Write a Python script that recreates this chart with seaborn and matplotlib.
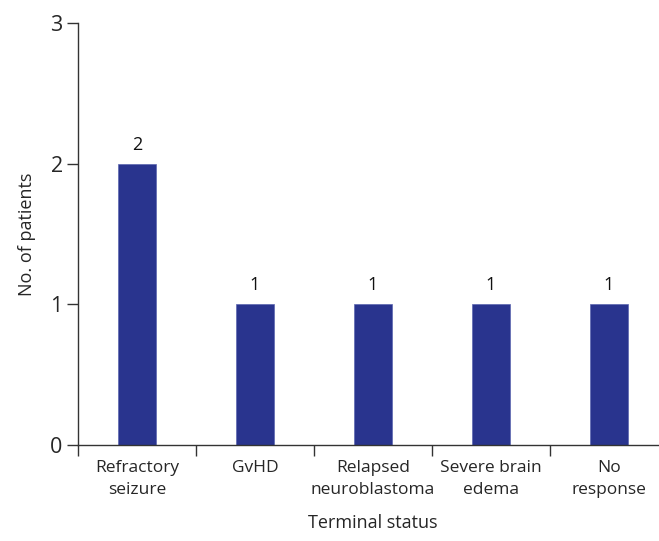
import matplotlib
matplotlib.use("Agg")
import matplotlib.pyplot as plt
import seaborn as sns
import pandas as pd
import numpy as np

categories = ["Refractory\nseizure", "GvHD", "Relapsed\nneuroblastoma", "Severe brain\nedema", "No\nresponse"]
values = [2, 1, 1, 1, 1]
yticks = [0, 1, 2, 3]

sns.set_style("white")
plt.rcParams['font.family'] = ['Open Sans', 'DejaVu Sans']

df = pd.DataFrame({"status": categories, "n": values})

fig = plt.figure(figsize=(6.59, 5.41), dpi=100)
ax = fig.add_axes([78/659, 96/541, 590/659, 422/541])
sns.barplot(data=df, x="status", y="n", color="#29348E", width=0.315,
            saturation=1, ax=ax, edgecolor="#5c66b0", linewidth=0.5)

ax.set_xlim(-0.5, 4.5)
ax.set_ylim(0, 3)
ax.set_yticks(yticks)
ax.set_yticklabels([str(t) for t in yticks], fontsize=15.5)
ax.tick_params(axis='y', direction='out', length=8, width=1, color='#333333', pad=3, left=True)
ax.tick_params(axis='x', which='major', length=0, labelsize=12.5, pad=11)
for lbl in ax.get_xticklabels():
    lbl.set_linespacing(1.45)
ax.set_xticks(np.arange(-0.5, 4.0, 1.0), minor=True)
ax.tick_params(axis='x', which='minor', direction='out', length=8, width=1, color='#333333', bottom=True)

for s in ['top', 'right']:
    ax.spines[s].set_visible(False)
for s in ['left', 'bottom']:
    ax.spines[s].set_color('#333333')
    ax.spines[s].set_linewidth(1)

for i, v in enumerate(values):
    ax.text(i, v + 0.07, str(v), ha='center', va='bottom', fontsize=13, color='#111111')

ax.set_xlabel("Terminal status", fontsize=13, labelpad=12)
ax.set_ylabel("No. of patients", fontsize=13, labelpad=10)

fig.savefig("out.png", dpi=100)
